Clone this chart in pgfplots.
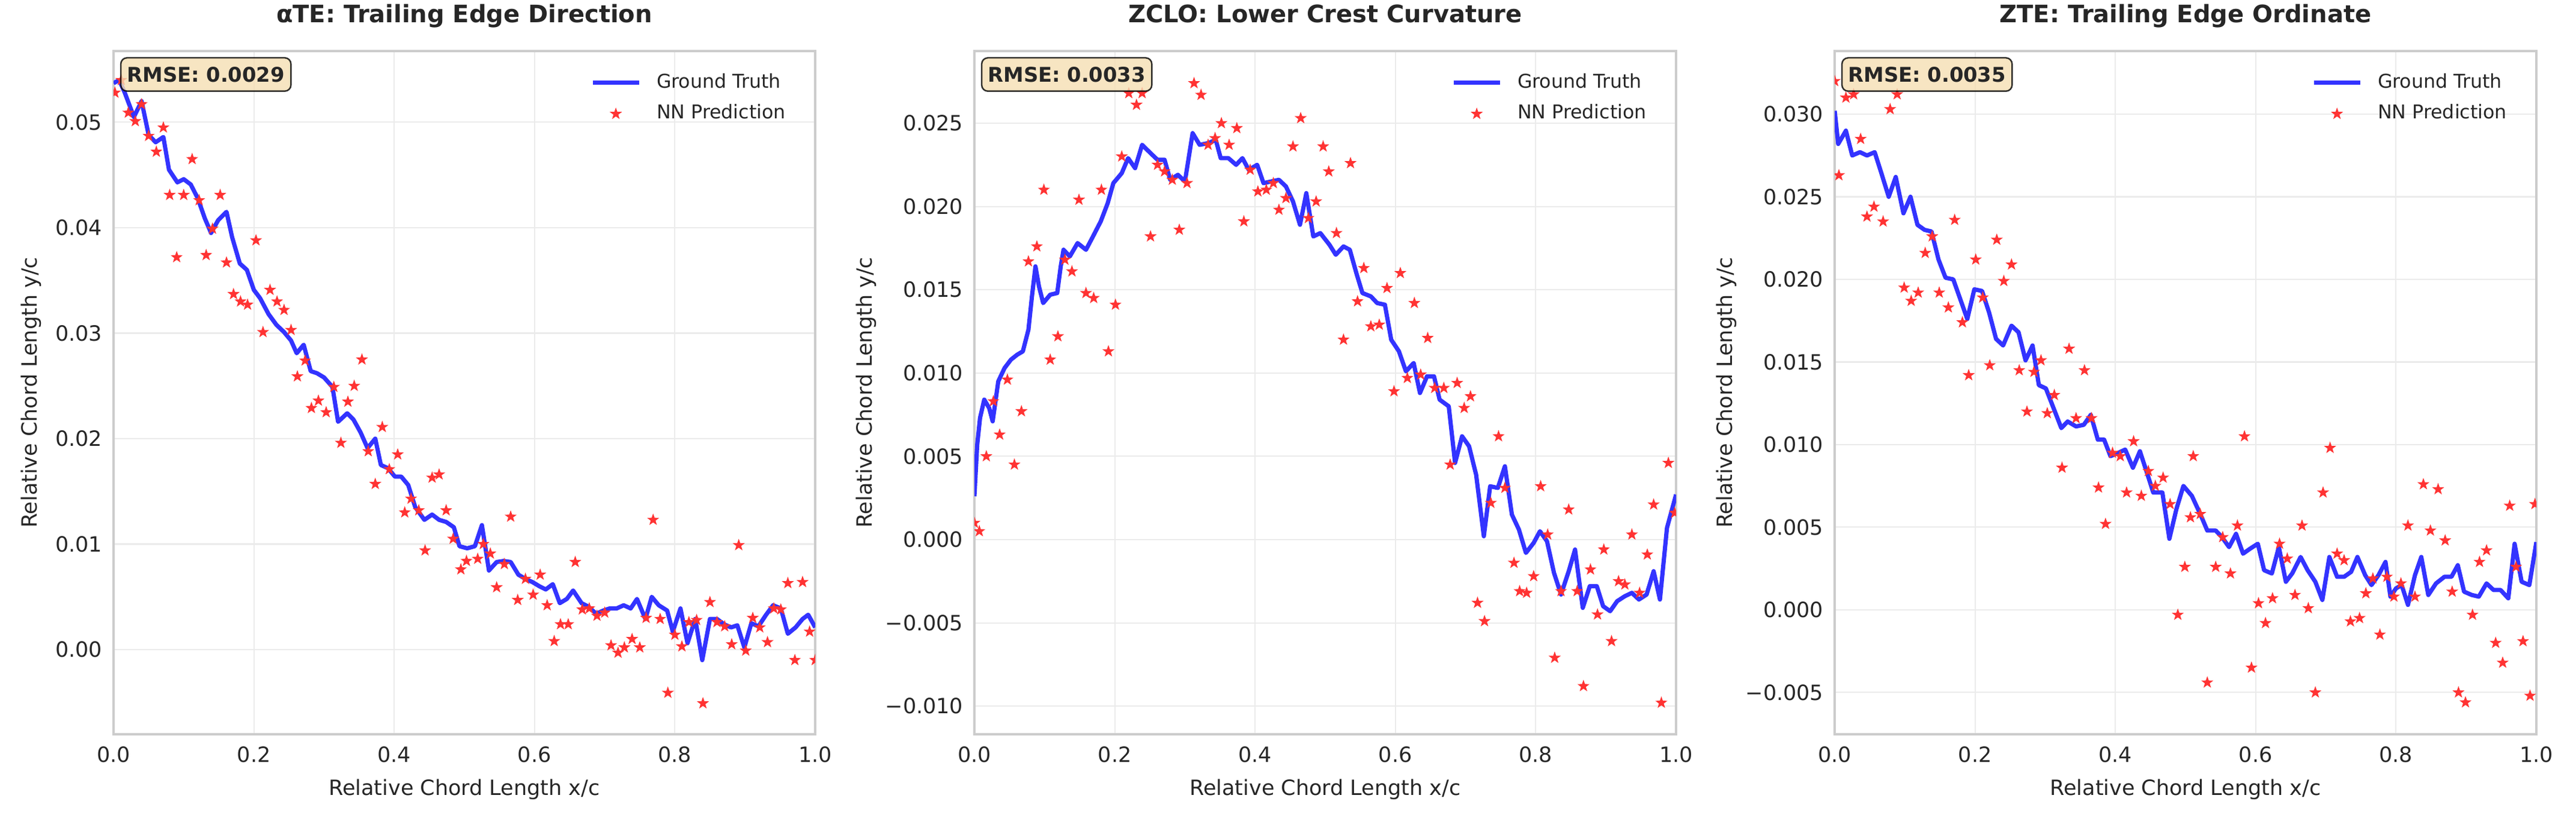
\documentclass[border=0pt]{standalone}
\usepackage{fontspec}
\setmainfont{DejaVu Sans}
\usepackage{pgfplots}
\pgfplotsset{compat=1.18}
\usetikzlibrary{plotmarks}

\definecolor{gtblue}{rgb}{0.2,0.2,1}
\definecolor{nnred}{rgb}{1,0.2,0.2}
\definecolor{gridc}{rgb}{0.92,0.92,0.92}
\definecolor{framec}{rgb}{0.8,0.8,0.8}
\definecolor{txt}{rgb}{0.15,0.15,0.15}
\definecolor{wheat}{RGB}{245,222,179}

% filled five-point star
\pgfdeclareplotmark{fstar}{%
  \pgfpathmoveto{\pgfpointpolar{90}{\pgfplotmarksize}}%
  \pgfpathlineto{\pgfpointpolar{126}{0.4\pgfplotmarksize}}%
  \pgfpathlineto{\pgfpointpolar{162}{\pgfplotmarksize}}%
  \pgfpathlineto{\pgfpointpolar{198}{0.4\pgfplotmarksize}}%
  \pgfpathlineto{\pgfpointpolar{234}{\pgfplotmarksize}}%
  \pgfpathlineto{\pgfpointpolar{270}{0.4\pgfplotmarksize}}%
  \pgfpathlineto{\pgfpointpolar{306}{\pgfplotmarksize}}%
  \pgfpathlineto{\pgfpointpolar{342}{0.4\pgfplotmarksize}}%
  \pgfpathlineto{\pgfpointpolar{18}{\pgfplotmarksize}}%
  \pgfpathlineto{\pgfpointpolar{54}{0.4\pgfplotmarksize}}%
  \pgfpathclose
  \pgfusepathqfill
}

\tikzset{
  rmse/.style={anchor=north west, fill=wheat, fill opacity=0.8, text opacity=1,
    draw=black, draw opacity=0.8, rounded corners=2.5pt, line width=0.6pt,
    inner xsep=2.5pt, inner ysep=3.6pt, font=\bfseries\fontsize{8.1}{10}\selectfont,
    text=txt, xshift=2.6pt, yshift=-2.4pt},
}

\pgfplotsset{
  panel/.style={
    scale only axis, width=280.32pt, height=272.88pt,
    anchor=south west,
    xmin=0, xmax=1,
    xtick={0,0.2,0.4,0.6,0.8,1},
    xticklabels={0.0,0.2,0.4,0.6,0.8,1.0},
    scaled y ticks=false,
    grid=major,
    major grid style={gridc, line width=0.5pt},
    axis line style={framec, line width=0.8pt},
    major tick length=0pt,
    tick style={draw=none},
    ticklabel style={font=\fontsize{8.4}{10}\selectfont, text=txt, inner sep=0pt},
    yticklabel style={xshift=-4.3pt},
    xticklabel style={yshift=-4.7pt},
    xlabel={Relative Chord Length x/c},
    ylabel={Relative Chord Length y/c},
    label style={font=\fontsize{8.4}{10}\selectfont, text=txt, inner sep=0pt},
    xlabel style={at={(axis description cs:0.5,0)}, anchor=north, yshift=-17.8pt},
    title style={font=\bfseries\fontsize{9.6}{11}\selectfont, text=txt,
      at={(axis description cs:0.5,1)}, anchor=base, yshift=5.4pt, inner sep=0pt},
    clip marker paths=true,
    legend cell align=left,
    legend image code/.code={\draw[mark repeat=2,mark phase=2,#1]
      plot coordinates {(0pt,0pt) (9.25pt,0pt) (18.5pt,0pt)};},
    legend style={draw=none, fill=none, at={(rel axis cs:1,1)}, anchor=north east,
      xshift=-8.6pt, yshift=-6.9pt, font=\fontsize{7.6}{9}\selectfont, text=txt,
      row sep=5.2pt, column sep=6.2pt,
      nodes={inner sep=0pt, text height=5.6pt, text depth=1.6pt}},
  },
  gt/.style={gtblue, line width=1.7pt, line join=round},
  nn/.style={only marks, mark=fstar, mark size=2.55pt, color=nnred},
}

\begin{document}
\begin{tikzpicture}

% ---------- alpha TE ----------
\begin{axis}[panel, at={(45.36pt,35.04pt)},
  ymin=-0.00803, ymax=0.05675,
  ytick={0,0.01,0.02,0.03,0.04,0.05},
  yticklabels={0.00,0.01,0.02,0.03,0.04,0.05},
  ylabel style={at={(axis description cs:0,0.5)}, anchor=center, yshift=32.9pt},
  title={αTE: Trailing Edge Direction}]
\addplot[gt] coordinates {
(0.000,0.0537)(0.008,0.0540)(0.016,0.0528)(0.029,0.0505)(0.040,0.0520)(0.050,0.0488)
(0.060,0.0481)(0.071,0.0486)(0.079,0.0455)(0.091,0.0443)(0.100,0.0446)(0.110,0.0441)
(0.120,0.0428)(0.130,0.0409)(0.139,0.0395)(0.149,0.0407)(0.161,0.0415)(0.169,0.0391)
(0.180,0.0366)(0.190,0.0360)(0.200,0.0341)(0.209,0.0333)(0.221,0.0318)(0.232,0.0308)
(0.243,0.0301)(0.253,0.0293)(0.261,0.0281)(0.271,0.0289)(0.281,0.0264)(0.290,0.0262)
(0.300,0.0258)(0.312,0.0249)(0.320,0.0216)(0.333,0.0224)(0.342,0.0218)(0.352,0.0206)
(0.362,0.0191)(0.373,0.0200)(0.381,0.0175)(0.391,0.0172)(0.401,0.0164)(0.410,0.0164)
(0.420,0.0156)(0.430,0.0135)(0.443,0.0123)(0.454,0.0128)(0.464,0.0123)(0.474,0.0121)
(0.485,0.0116)(0.493,0.0098)(0.504,0.0096)(0.515,0.0098)(0.525,0.0118)(0.535,0.0075)
(0.546,0.0083)(0.556,0.0084)(0.566,0.0083)(0.577,0.0071)(0.587,0.0067)(0.597,0.0064)
(0.607,0.0060)(0.616,0.0057)(0.626,0.0062)(0.636,0.0044)(0.646,0.0048)(0.655,0.0056)
(0.667,0.0044)(0.676,0.0041)(0.688,0.0034)(0.698,0.0037)(0.707,0.0039)(0.717,0.0039)
(0.727,0.0042)(0.737,0.0039)(0.746,0.0048)(0.758,0.0029)(0.767,0.0050)(0.777,0.0042)
(0.789,0.0037)(0.797,0.0017)(0.808,0.0039)(0.818,0.0006)(0.829,0.0029)(0.839,-0.0010)
(0.850,0.0029)(0.860,0.0029)(0.870,0.0024)(0.880,0.0021)(0.889,0.0023)(0.899,0.0002)
(0.909,0.0025)(0.919,0.0022)(0.930,0.0033)(0.940,0.0042)(0.951,0.0039)(0.961,0.0015)
(0.972,0.0021)(0.982,0.0029)(0.990,0.0033)(1.000,0.0021)
};
\addlegendentry{Ground Truth}
\addplot[nn] coordinates {
(0.002,0.0528)(0.011,0.0540)(0.021,0.0509)(0.031,0.0501)(0.040,0.0517)(0.050,0.0487)
(0.061,0.0472)(0.071,0.0495)(0.080,0.0431)(0.090,0.0372)(0.100,0.0431)(0.112,0.0465)
(0.122,0.0426)(0.132,0.0374)(0.141,0.0399)(0.152,0.0431)(0.161,0.0367)(0.171,0.0337)
(0.181,0.0330)(0.191,0.0327)(0.203,0.0388)(0.213,0.0301)(0.223,0.0341)(0.233,0.0330)
(0.243,0.0322)(0.253,0.0303)(0.262,0.0259)(0.273,0.0274)(0.282,0.0229)(0.292,0.0236)
(0.303,0.0225)(0.314,0.0249)(0.324,0.0196)(0.334,0.0235)(0.343,0.0250)(0.354,0.0275)
(0.363,0.0188)(0.373,0.0157)(0.383,0.0211)(0.393,0.0171)(0.405,0.0185)(0.415,0.0130)
(0.424,0.0143)(0.435,0.0132)(0.444,0.0094)(0.454,0.0163)(0.464,0.0166)(0.474,0.0132)
(0.484,0.0105)(0.495,0.0076)(0.503,0.0084)(0.519,0.0086)(0.527,0.0100)(0.537,0.0091)
(0.546,0.0059)(0.557,0.0081)(0.566,0.0126)(0.576,0.0047)(0.587,0.0067)(0.598,0.0052)
(0.608,0.0071)(0.618,0.0042)(0.628,0.0008)(0.637,0.0024)(0.648,0.0024)(0.658,0.0083)
(0.668,0.0038)(0.678,0.0039)(0.689,0.0032)(0.700,0.0035)(0.709,0.0004)(0.719,-0.0003)
(0.728,0.0002)(0.739,0.0010)(0.750,0.0002)(0.759,0.0030)(0.769,0.0123)(0.779,0.0029)
(0.790,-0.0041)(0.800,0.0014)(0.810,0.0003)(0.820,0.0026)(0.831,0.0028)(0.840,-0.0051)
(0.850,0.0045)(0.860,0.0026)(0.871,0.0022)(0.881,0.0005)(0.891,0.0099)(0.901,-0.0001)
(0.911,0.0030)(0.921,0.0021)(0.932,0.0007)(0.941,0.0039)(0.951,0.0038)(0.961,0.0063)
(0.971,-0.0010)(0.982,0.0064)(0.992,0.0017)(1.000,-0.0010)
};
\addlegendentry{NN Prediction}
\node[rmse] at (rel axis cs:0,1) {RMSE: 0.0029};
\end{axis}

% ---------- ZCLO ----------
\begin{axis}[panel, at={(389.28pt,35.04pt)},
  ymin=-0.01169, ymax=0.02933,
  ytick={-0.01,-0.005,0,0.005,0.01,0.015,0.02,0.025},
  yticklabels={−0.010,−0.005,0.000,0.005,0.010,0.015,0.020,0.025},
  ylabel style={at={(axis description cs:0,0.5)}, anchor=center, yshift=43.3pt},
  title={ZCLO: Lower Crest Curvature}]
\addplot[gt] coordinates {
(0.000,0.0026)(0.004,0.0057)(0.008,0.0073)(0.014,0.0084)(0.021,0.0079)(0.026,0.0071)
(0.034,0.0095)(0.043,0.0103)(0.052,0.0108)(0.061,0.0111)(0.069,0.0113)(0.077,0.0126)
(0.082,0.0146)(0.087,0.0164)(0.092,0.0152)(0.098,0.0142)(0.108,0.0147)(0.118,0.0148)
(0.123,0.0164)(0.127,0.0174)(0.136,0.0170)(0.147,0.0178)(0.159,0.0174)(0.169,0.0182)
(0.180,0.0191)(0.190,0.0202)(0.198,0.0214)(0.210,0.0220)(0.219,0.0229)(0.229,0.0223)
(0.239,0.0237)(0.251,0.0232)(0.261,0.0228)(0.271,0.0228)(0.279,0.0216)(0.290,0.0219)
(0.300,0.0215)(0.311,0.0244)(0.321,0.0237)(0.333,0.0238)(0.344,0.0240)(0.351,0.0229)
(0.362,0.0229)(0.373,0.0225)(0.382,0.0229)(0.391,0.0222)(0.403,0.0225)(0.412,0.0214)
(0.423,0.0215)(0.434,0.0216)(0.444,0.0212)(0.454,0.0203)(0.464,0.0189)(0.473,0.0208)
(0.483,0.0182)(0.493,0.0184)(0.506,0.0177)(0.515,0.0171)(0.526,0.0176)(0.535,0.0174)
(0.545,0.0159)(0.553,0.0148)(0.565,0.0146)(0.574,0.0142)(0.585,0.0141)(0.594,0.0120)
(0.605,0.0113)(0.615,0.0101)(0.626,0.0106)(0.635,0.0088)(0.645,0.0098)(0.655,0.0098)
(0.663,0.0084)(0.676,0.0080)(0.685,0.0046)(0.695,0.0062)(0.705,0.0056)(0.715,0.0039)
(0.726,0.0002)(0.735,0.0032)(0.746,0.0031)(0.756,0.0044)(0.766,0.0015)(0.776,0.0006)
(0.786,-0.0008)(0.797,-0.0002)(0.806,0.0005)(0.816,-0.0001)(0.826,-0.0020)(0.836,-0.0033)
(0.847,-0.0019)(0.856,-0.0006)(0.867,-0.0041)(0.877,-0.0028)(0.887,-0.0028)(0.896,-0.0040)
(0.906,-0.0043)(0.916,-0.0037)(0.927,-0.0034)(0.937,-0.0032)(0.947,-0.0036)(0.958,-0.0033)
(0.968,-0.0019)(0.977,-0.0036)(0.987,0.0007)(1.000,0.0027)
};
\addlegendentry{Ground Truth}
\addplot[nn] coordinates {
(0.000,0.0010)(0.007,0.0005)(0.017,0.0050)(0.027,0.0083)(0.036,0.0063)(0.047,0.0096)
(0.057,0.0045)(0.067,0.0077)(0.077,0.0167)(0.089,0.0176)(0.099,0.0210)(0.108,0.0108)
(0.119,0.0122)(0.129,0.0168)(0.139,0.0161)(0.149,0.0204)(0.159,0.0148)(0.170,0.0145)
(0.181,0.0210)(0.191,0.0113)(0.201,0.0141)(0.210,0.0230)(0.220,0.0268)(0.231,0.0261)
(0.239,0.0268)(0.251,0.0182)(0.261,0.0225)(0.271,0.0221)(0.282,0.0216)(0.292,0.0186)
(0.303,0.0214)(0.313,0.0274)(0.323,0.0267)(0.333,0.0237)(0.343,0.0241)(0.352,0.0250)
(0.363,0.0237)(0.374,0.0247)(0.384,0.0191)(0.393,0.0222)(0.404,0.0209)(0.416,0.0210)
(0.426,0.0214)(0.434,0.0198)(0.444,0.0205)(0.454,0.0236)(0.465,0.0253)(0.476,0.0193)
(0.487,0.0203)(0.497,0.0236)(0.505,0.0221)(0.516,0.0184)(0.526,0.0120)(0.536,0.0226)
(0.546,0.0143)(0.555,0.0163)(0.565,0.0128)(0.577,0.0129)(0.588,0.0151)(0.598,0.0089)
(0.607,0.0160)(0.617,0.0097)(0.627,0.0142)(0.636,0.0099)(0.646,0.0121)(0.656,0.0091)
(0.669,0.0091)(0.678,0.0045)(0.688,0.0094)(0.698,0.0079)(0.707,0.0086)(0.717,-0.0038)
(0.727,-0.0049)(0.736,0.0022)(0.747,0.0062)(0.756,0.0031)(0.769,-0.0014)(0.777,-0.0031)
(0.787,-0.0032)(0.797,-0.0022)(0.807,0.0032)(0.817,0.0003)(0.827,-0.0071)(0.836,-0.0031)
(0.847,0.0018)(0.859,-0.0031)(0.868,-0.0088)(0.878,-0.0018)(0.888,-0.0045)(0.897,-0.0006)
(0.908,-0.0061)(0.918,-0.0025)(0.927,-0.0027)(0.937,0.0003)(0.948,-0.0032)(0.959,-0.0009)
(0.968,0.0021)(0.979,-0.0098)(0.989,0.0046)(0.998,0.0016)
};
\addlegendentry{NN Prediction}
\node[rmse] at (rel axis cs:0,1) {RMSE: 0.0033};
\end{axis}

% ---------- ZTE ----------
\begin{axis}[panel, at={(732.96pt,35.04pt)},
  ymin=-0.00753, ymax=0.03382,
  ytick={-0.005,0,0.005,0.01,0.015,0.02,0.025,0.03},
  yticklabels={−0.005,0.000,0.005,0.010,0.015,0.020,0.025,0.030},
  ylabel style={at={(axis description cs:0,0.5)}, anchor=center, yshift=43.3pt},
  title={ZTE: Trailing Edge Ordinate}]
\addplot[gt] coordinates {
(0.000,0.0302)(0.005,0.0282)(0.016,0.0290)(0.025,0.0275)(0.036,0.0277)(0.046,0.0275)
(0.057,0.0277)(0.066,0.0265)(0.077,0.0250)(0.087,0.0262)(0.098,0.0240)(0.108,0.0250)
(0.118,0.0233)(0.128,0.0230)(0.138,0.0229)(0.148,0.0212)(0.158,0.0201)(0.169,0.0200)
(0.179,0.0188)(0.189,0.0176)(0.199,0.0194)(0.210,0.0193)(0.220,0.0180)(0.230,0.0164)
(0.240,0.0160)(0.252,0.0172)(0.262,0.0168)(0.272,0.0151)(0.282,0.0160)(0.291,0.0136)
(0.301,0.0134)(0.312,0.0122)(0.323,0.0110)(0.332,0.0114)(0.344,0.0111)(0.355,0.0112)
(0.365,0.0118)(0.375,0.0103)(0.384,0.0103)(0.393,0.0093)(0.404,0.0095)(0.414,0.0097)
(0.425,0.0086)(0.435,0.0096)(0.445,0.0083)(0.454,0.0071)(0.467,0.0071)(0.477,0.0043)
(0.487,0.0061)(0.497,0.0075)(0.509,0.0069)(0.521,0.0058)(0.531,0.0048)(0.543,0.0048)
(0.552,0.0044)(0.562,0.0038)(0.572,0.0046)(0.582,0.0034)(0.592,0.0037)(0.603,0.0040)
(0.612,0.0024)(0.623,0.0022)(0.633,0.0038)(0.643,0.0017)(0.652,0.0022)(0.664,0.0032)
(0.674,0.0024)(0.685,0.0017)(0.695,0.0006)(0.705,0.0032)(0.716,0.0020)(0.726,0.0020)
(0.736,0.0023)(0.745,0.0032)(0.756,0.0021)(0.765,0.0015)(0.775,0.0021)(0.785,0.0029)
(0.792,0.0008)(0.800,0.0013)(0.808,0.0015)(0.817,0.0003)(0.827,0.0021)(0.836,0.0032)
(0.846,0.0009)(0.857,0.0016)(0.869,0.0020)(0.879,0.0020)(0.888,0.0027)(0.897,0.0011)
(0.908,0.0009)(0.918,0.0008)(0.929,0.0016)(0.939,0.0012)(0.949,0.0012)(0.960,0.0007)
(0.969,0.0040)(0.979,0.0017)(0.990,0.0015)(1.000,0.0041)
};
\addlegendentry{Ground Truth}
\addplot[nn] coordinates {
(0.000,0.0320)(0.006,0.0263)(0.016,0.0310)(0.027,0.0312)(0.037,0.0285)(0.046,0.0238)
(0.056,0.0244)(0.069,0.0235)(0.079,0.0303)(0.089,0.0312)(0.099,0.0195)(0.109,0.0187)
(0.119,0.0192)(0.129,0.0216)(0.139,0.0226)(0.149,0.0192)(0.162,0.0183)(0.171,0.0236)
(0.182,0.0174)(0.191,0.0142)(0.201,0.0212)(0.211,0.0189)(0.221,0.0148)(0.231,0.0224)
(0.241,0.0199)(0.252,0.0209)(0.263,0.0145)(0.274,0.0120)(0.284,0.0144)(0.294,0.0151)
(0.303,0.0119)(0.313,0.0130)(0.324,0.0086)(0.334,0.0158)(0.344,0.0116)(0.356,0.0145)
(0.366,0.0116)(0.376,0.0074)(0.386,0.0052)(0.396,0.0095)(0.407,0.0093)(0.416,0.0071)
(0.426,0.0102)(0.437,0.0069)(0.447,0.0084)(0.457,0.0075)(0.468,0.0080)(0.478,0.0064)
(0.489,-0.0003)(0.499,0.0026)(0.507,0.0056)(0.511,0.0093)(0.521,0.0058)(0.531,-0.0044)
(0.543,0.0026)(0.553,0.0044)(0.564,0.0022)(0.574,0.0051)(0.584,0.0105)(0.594,-0.0035)
(0.604,0.0004)(0.614,-0.0008)(0.624,0.0007)(0.634,0.0040)(0.645,0.0031)(0.656,0.0009)
(0.666,0.0051)(0.675,0.0001)(0.685,-0.0050)(0.696,0.0071)(0.706,0.0098)(0.716,0.0034)
(0.726,0.0030)(0.735,-0.0007)(0.748,-0.0005)(0.757,0.0010)(0.767,0.0019)(0.777,-0.0015)
(0.787,0.0020)(0.797,0.0008)(0.807,0.0016)(0.817,0.0051)(0.827,0.0008)(0.839,0.0076)
(0.849,0.0048)(0.860,0.0073)(0.870,0.0042)(0.880,0.0011)(0.889,-0.0050)(0.899,-0.0056)
(0.909,-0.0003)(0.919,0.0029)(0.929,0.0036)(0.942,-0.0020)(0.952,-0.0032)(0.962,0.0063)
(0.971,0.0026)(0.981,-0.0019)(0.991,-0.0052)(0.998,0.0064)
};
\addlegendentry{NN Prediction}
\node[rmse] at (rel axis cs:0,1) {RMSE: 0.0035};
\end{axis}

\pgfresetboundingbox
\path[use as bounding box] (0,0) rectangle (1029.12pt,328.32pt);
\end{tikzpicture}
\end{document}
